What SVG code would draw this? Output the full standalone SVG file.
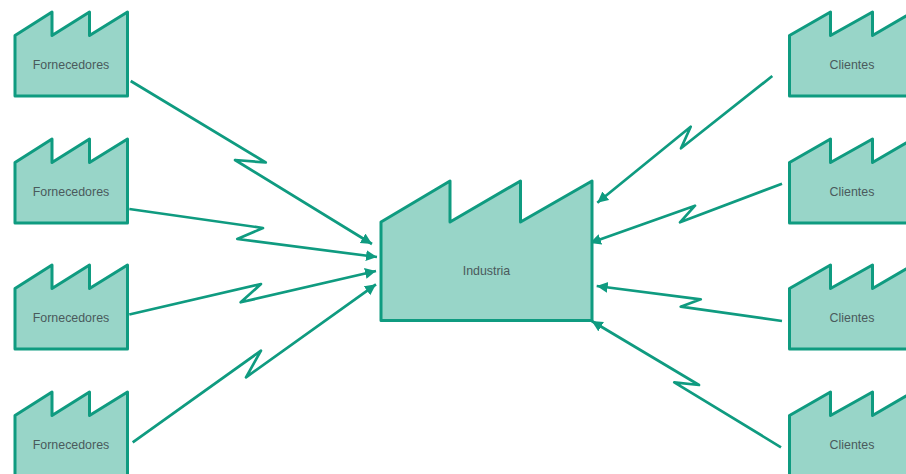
<svg xmlns="http://www.w3.org/2000/svg" width="906" height="474" viewBox="0 0 906 474">
<style>
.f{fill:#98d5c8;stroke:#0f9b80;stroke-width:3;stroke-linejoin:round}
.c{fill:none;stroke:#0f9b80;stroke-width:2.7;stroke-linejoin:round;marker-end:url(#a)}
text{font-family:"Liberation Sans",Arial,sans-serif;font-size:12.4px;fill:#4a5a5c;text-anchor:middle}
</style>
<defs>
<marker id="a" markerUnits="userSpaceOnUse" markerWidth="14" markerHeight="14" refX="11" refY="6" orient="auto"><path d="M0 0.500L11 6L0 11.500Z" fill="#0f9b80"/></marker>
<path id="l" d="M15 35.5L52 12V35.5L89.500 12V35.500L127.500 12V96H15Z"/>
<path id="r" d="M789.500 35.500L830.500 12V35.500L872.500 12V35.500L913 12V96H789.500Z"/>
</defs>
<rect width="906" height="474" fill="#fff"/>
<g id="connectors">
<path class="c" d="M130.700 81L265.700 162.500L235 160L372 244"/>
<path class="c" d="M129.300 209L263 228L237.300 239L377 257"/>
<path class="c" d="M129.300 314.500L261 284L240.700 302.300L376 271"/>
<path class="c" d="M132.700 442.300L261 350.700L246 377.300L376 284.300"/>
<path class="c" d="M772.300 76L681 148.300L690.700 126.700L597.300 202.700"/>
<path class="c" d="M782 183.700L680 222.300L695 205.700L590 243"/>
<path class="c" d="M782 321L680.700 306.700L700.700 299.300L596.700 286"/>
<path class="c" d="M781 447.300L674.300 382.300L699 385L591.700 321"/>
</g>
<g id="fornecedores-1"><use href="#l" class="f"/><text x="71" y="69">Fornecedores</text></g>
<g id="fornecedores-2"><use href="#l" class="f" y="127"/><text x="71" y="196">Fornecedores</text></g>
<g id="fornecedores-3"><use href="#l" class="f" y="253"/><text x="71" y="322">Fornecedores</text></g>
<g id="fornecedores-4"><use href="#l" class="f" y="380"/><text x="71" y="449">Fornecedores</text></g>
<g id="clientes-1"><use href="#r" class="f"/><text x="852" y="69">Clientes</text></g>
<g id="clientes-2"><use href="#r" class="f" y="127"/><text x="852" y="196">Clientes</text></g>
<g id="clientes-3"><use href="#r" class="f" y="253"/><text x="852" y="322">Clientes</text></g>
<g id="clientes-4"><use href="#r" class="f" y="380"/><text x="852" y="449">Clientes</text></g>
<g id="industria"><path class="f" d="M381 222L450 181V222L520.500 181V222L592 181V320.500H381Z"/><text x="486.500" y="275">Industria</text></g>
</svg>
